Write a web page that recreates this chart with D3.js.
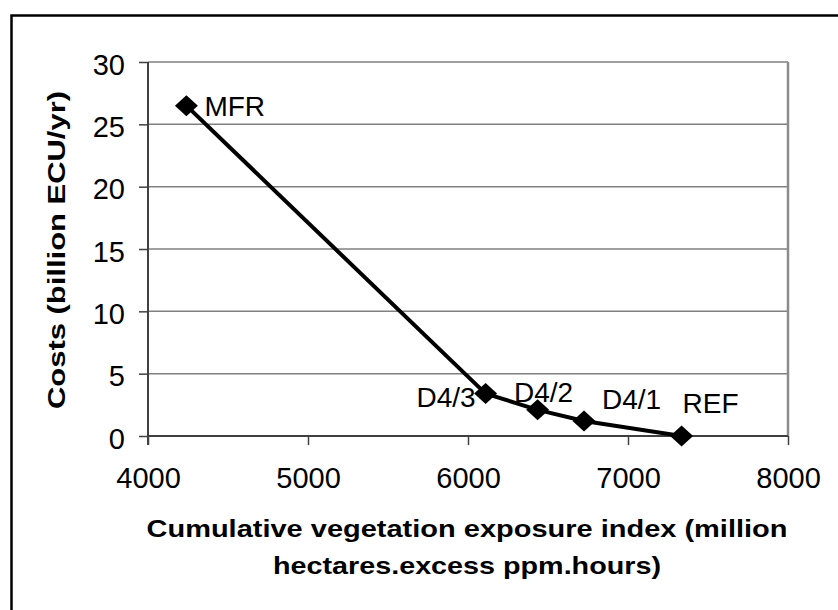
<!DOCTYPE html>
<html>
<head>
<meta charset="utf-8">
<script src="https://cdn.jsdelivr.net/npm/d3@7"></script>
<style>
  html, body { margin: 0; padding: 0; background: #fff; }
  svg { display: block; }
</style>
</head>
<body>
<svg id="chart" width="838" height="610"></svg>
<script>
// ---- data ----
const scenarioLabels = ["MFR", "D4/3", "D4/2", "D4/1", "REF"];
const exposureValues = [4240, 6110, 6435, 6725, 7335];
const costValues = [26.5, 3.4, 2.1, 1.2, 0];
const xTickValues = [4000, 5000, 6000, 7000, 8000];
const yTickValues = [0, 5, 10, 15, 20, 25, 30];
const xTitleLines = ["Cumulative vegetation exposure index (million", "hectares.excess ppm.hours)"];
const yTitle = "Costs (billion ECU/yr)";

// label placement (style, not data)
const labelPlacement = [
  { anchor: "start",  dx: 18,  dy: 10 },
  { anchor: "end",    dx: -10, dy: 13 },
  { anchor: "middle", dx: 6,   dy: -8 },
  { anchor: "start",  dx: 18,  dy: -12 },
  { anchor: "start",  dx: 1,   dy: -23 }
];
const xTitleWidths = [641, 388];

const svg = d3.select("#chart");
const font = "'Liberation Sans', Arial, sans-serif";

// outer frame
svg.append("rect")
  .attr("x", 11.5).attr("y", 15.5)
  .attr("width", 840).attr("height", 620)
  .attr("fill", "none").attr("stroke", "#000").attr("stroke-width", 2.5);

const plot = { left: 148, right: 788, top: 62, bottom: 436 };

const x = d3.scaleLinear().domain([4000, 8000]).range([plot.left, plot.right]);
const y = d3.scaleLinear().domain([0, 30]).range([plot.bottom, plot.top]);

// gridlines
svg.append("g")
  .selectAll("line")
  .data(yTickValues.filter(v => v > 0))
  .join("line")
  .attr("x1", plot.left).attr("x2", plot.right)
  .attr("y1", d => y(d)).attr("y2", d => y(d))
  .attr("stroke", "#808080").attr("stroke-width", 1.5);

// right border of plot area
svg.append("line")
  .attr("x1", plot.right).attr("x2", plot.right)
  .attr("y1", plot.top).attr("y2", plot.bottom)
  .attr("stroke", "#8c8c8c").attr("stroke-width", 2.5);

// axes
const xAxis = d3.axisBottom(x).tickValues(xTickValues).tickSize(9).tickPadding(22).tickFormat(d3.format("d"));
const yAxis = d3.axisLeft(y).tickValues(yTickValues).tickSize(9).tickPadding(14).tickFormat(d3.format("d"));

const gx = svg.append("g").attr("transform", `translate(0,${plot.bottom})`).call(xAxis);
const gy = svg.append("g").attr("transform", `translate(${plot.left},0)`).call(yAxis);

[gx, gy].forEach(g => {
  g.select(".domain").attr("stroke", "#404040").attr("stroke-width", 2);
  g.selectAll(".tick line").attr("stroke", "#404040").attr("stroke-width", 1.5);
  g.selectAll(".tick text")
    .attr("fill", "#000")
    .style("font-family", font)
    .style("font-size", "29px");
});
gy.selectAll(".tick text").attr("dy", "0.42em");
gx.select(".domain").attr("d", `M${plot.left},0H${plot.right}`);
gy.select(".domain").attr("d", `M0,${plot.top}V${plot.bottom + 9}`);

// series line
const pts = exposureValues.map((v, i) => ({ x: v, y: costValues[i], label: scenarioLabels[i], pl: labelPlacement[i] }));
svg.append("path")
  .datum(pts)
  .attr("fill", "none")
  .attr("stroke", "#000")
  .attr("stroke-width", 4)
  .attr("stroke-linejoin", "round")
  .attr("d", d3.line().x(d => x(d.x)).y(d => y(d.y)));

// diamond markers
svg.append("g")
  .selectAll("path")
  .data(pts)
  .join("path")
  .attr("transform", d => `translate(${x(d.x)},${y(d.y)})`)
  .attr("d", "M0,-10.5L11.5,0L0,10.5L-11.5,0Z")
  .attr("fill", "#000");

// data labels
svg.append("g")
  .selectAll("text")
  .data(pts)
  .join("text")
  .attr("x", d => x(d.x) + d.pl.dx)
  .attr("y", d => y(d.y) + d.pl.dy)
  .attr("text-anchor", d => d.pl.anchor)
  .style("font-family", font)
  .style("font-size", "28px")
  .attr("fill", "#000")
  .text(d => d.label);

// x title
const cx = 467;
svg.append("g")
  .selectAll("text")
  .data(xTitleLines)
  .join("text")
  .attr("x", cx)
  .attr("y", (d, i) => 537 + i * 37)
  .attr("text-anchor", "middle")
  .attr("textLength", (d, i) => xTitleWidths[i])
  .attr("lengthAdjust", "spacingAndGlyphs")
  .style("font-family", font)
  .style("font-size", "24.5px")
  .style("font-weight", "bold")
  .text(d => d);

// y title
svg.append("text")
  .attr("transform", `translate(64.5,250) rotate(-90)`)
  .attr("text-anchor", "middle")
  .attr("textLength", 318)
  .attr("lengthAdjust", "spacingAndGlyphs")
  .style("font-family", font)
  .style("font-size", "24px")
  .style("font-weight", "bold")
  .text(yTitle);
</script>
</body>
</html>
